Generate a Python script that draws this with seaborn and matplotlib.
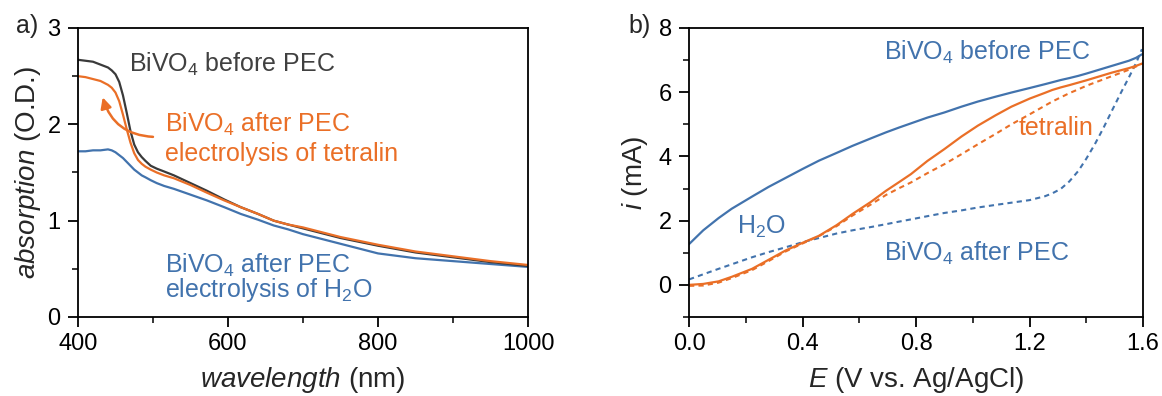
import numpy as np
import pandas as pd
import matplotlib
matplotlib.use("Agg")
import matplotlib.pyplot as plt
import seaborn as sns
from matplotlib.ticker import MultipleLocator, FormatStrFormatter

# ---------------- data: panel a (UV-vis absorption) ----------------
wavelength = [400, 410, 420, 430, 440, 445, 450, 455, 460, 465, 470, 475, 480, 485, 490, 497,
              505, 515, 528, 550, 572, 595, 617, 640, 661, 680, 700, 725, 750, 775, 800, 850,
              900, 950, 1000]
abs_before = [2.67, 2.66, 2.65, 2.62, 2.59, 2.56, 2.52, 2.44, 2.30, 2.12, 1.93, 1.79, 1.71, 1.66,
              1.62, 1.57, 1.54, 1.51, 1.47, 1.39, 1.31, 1.22, 1.14, 1.07, 1.00, 0.96, 0.92, 0.87,
              0.82, 0.78, 0.74, 0.67, 0.62, 0.57, 0.53]
abs_tetralin = [2.50, 2.49, 2.47, 2.45, 2.41, 2.38, 2.33, 2.24, 2.10, 1.95, 1.81, 1.70, 1.63, 1.59,
                1.56, 1.53, 1.50, 1.47, 1.44, 1.37, 1.29, 1.21, 1.14, 1.07, 1.00, 0.96, 0.93, 0.88,
                0.83, 0.79, 0.75, 0.68, 0.63, 0.58, 0.54]
abs_h2o = [1.72, 1.72, 1.73, 1.73, 1.74, 1.73, 1.71, 1.68, 1.65, 1.61, 1.57, 1.53, 1.50, 1.47,
           1.45, 1.42, 1.39, 1.36, 1.33, 1.27, 1.21, 1.14, 1.07, 1.01, 0.95, 0.91, 0.86, 0.81,
           0.76, 0.71, 0.66, 0.61, 0.58, 0.55, 0.52]

# ---------------- data: panel b (current vs potential) ----------------
potential = [0.0, 0.05, 0.104, 0.15, 0.222, 0.28, 0.34, 0.40, 0.458, 0.52, 0.576, 0.64, 0.694,
             0.74, 0.782, 0.84, 0.90, 0.96, 1.018, 1.08, 1.136, 1.20, 1.254, 1.28, 1.31, 1.34,
             1.372, 1.40, 1.43, 1.46, 1.49, 1.52, 1.55, 1.575, 1.596]
i_before = [1.27, 1.70, 2.08, 2.37, 2.75, 3.05, 3.33, 3.61, 3.87, 4.11, 4.33, 4.56, 4.75,
            4.90, 5.03, 5.21, 5.37, 5.55, 5.71, 5.86, 5.99, 6.13, 6.25, 6.31, 6.38, 6.44,
            6.51, 6.58, 6.66, 6.74, 6.82, 6.90, 6.98, 7.07, 7.18]
i_tetralin_before = [0.0, 0.03, 0.11, 0.25, 0.50, 0.78, 1.07, 1.31, 1.53, 1.86, 2.21, 2.58, 2.93,
                     3.20, 3.45, 3.86, 4.23, 4.62, 4.96, 5.28, 5.55, 5.80, 5.98, 6.07, 6.15, 6.22,
                     6.30, 6.37, 6.45, 6.53, 6.61, 6.68, 6.75, 6.82, 6.89]
i_tetralin_after = [-0.03, -0.02, 0.07, 0.21, 0.46, 0.74, 1.04, 1.29, 1.52, 1.83, 2.16, 2.50, 2.80,
                    3.01, 3.19, 3.48, 3.76, 4.07, 4.38, 4.70, 5.00, 5.31, 5.58, 5.71, 5.84, 5.97,
                    6.09, 6.20, 6.30, 6.40, 6.50, 6.60, 6.70, 6.80, 6.89]
i_h2o_after = [0.17, 0.33, 0.50, 0.64, 0.86, 1.02, 1.17, 1.33, 1.46, 1.60, 1.70, 1.80, 1.89,
               1.97, 2.04, 2.14, 2.24, 2.32, 2.41, 2.49, 2.56, 2.64, 2.76, 2.85, 2.99, 3.22,
               3.55, 3.93, 4.38, 4.88, 5.42, 5.95, 6.46, 6.90, 7.34]

# ---------------- style ----------------
sns.set_theme(style="ticks")
plt.rcParams["font.family"] = ["Liberation Sans", "DejaVu Sans"]
plt.rcParams["mathtext.fontset"] = "custom"
plt.rcParams["mathtext.rm"] = "Liberation Sans"
plt.rcParams["mathtext.it"] = "Liberation Sans:italic"
plt.rcParams["mathtext.bf"] = "Liberation Sans:bold"

BLUE = "#4273ad"
ORANGE = "#ea6f27"
DARK = "#3a3a3a"
TEXTDARK = "#404040"
TICK_FS = 17
LAB_FS = 20
ANN_FS = 18

fig = plt.figure(figsize=(11.62, 3.96), dpi=100)
axa = fig.add_axes([0.0671, 0.1995, 0.3873, 0.7298])
axb = fig.add_axes([0.593, 0.1995, 0.3907, 0.7298])

dfa = pd.DataFrame({"wl": wavelength, "before": abs_before,
                    "tetralin": abs_tetralin, "h2o": abs_h2o})
sns.lineplot(data=dfa, x="wl", y="h2o", ax=axa, color=BLUE, lw=1.6, sort=False)
sns.lineplot(data=dfa, x="wl", y="before", ax=axa, color=DARK, lw=1.6, sort=False)
sns.lineplot(data=dfa, x="wl", y="tetralin", ax=axa, color=ORANGE, lw=1.6, sort=False)

dfb = pd.DataFrame({"E": potential, "before": i_before, "tb": i_tetralin_before,
                    "ta": i_tetralin_after, "ha": i_h2o_after})
sns.lineplot(data=dfb, x="E", y="before", ax=axb, color=BLUE, lw=1.6, sort=False)
sns.lineplot(data=dfb, x="E", y="ha", ax=axb, color=BLUE, lw=1.5, sort=False,
             linestyle=(0, (2.5, 2.0)))
sns.lineplot(data=dfb, x="E", y="ta", ax=axb, color=ORANGE, lw=1.5, sort=False,
             linestyle=(0, (2.5, 2.0)))
sns.lineplot(data=dfb, x="E", y="tb", ax=axb, color=ORANGE, lw=1.6, sort=False)

# ---------------- axes formatting ----------------
for ax in (axa, axb):
    for sp in ax.spines.values():
        sp.set_visible(True)
        sp.set_color("black")
        sp.set_linewidth(1.3)
    ax.tick_params(which="major", direction="out", length=7.5, width=1.3,
                   labelsize=TICK_FS, colors="black", top=False, right=False)
    ax.tick_params(axis="x", which="major", pad=4)
    ax.tick_params(axis="y", which="major", pad=5)
    ax.tick_params(which="minor", direction="out", length=4, width=1.3,
                   top=False, right=False)

axa.set_xlim(400, 1000)
axa.set_ylim(0, 3)
axa.xaxis.set_major_locator(MultipleLocator(200))
axa.xaxis.set_minor_locator(MultipleLocator(100))
axa.yaxis.set_major_locator(MultipleLocator(1))
axa.yaxis.set_minor_locator(MultipleLocator(0.5))
axa.set_xlabel(r"$\it{wavelength}$ (nm)", fontsize=LAB_FS, labelpad=7)
axa.set_ylabel(r"$\it{absorption}$ (O.D.)", fontsize=LAB_FS, labelpad=3)

axb.set_xlim(0, 1.6)
axb.set_ylim(-1, 8)
axb.xaxis.set_major_locator(MultipleLocator(0.4))
axb.xaxis.set_minor_locator(MultipleLocator(0.2))
axb.yaxis.set_major_locator(MultipleLocator(2))
axb.yaxis.set_minor_locator(MultipleLocator(1))
axb.xaxis.set_major_formatter(FormatStrFormatter("%.1f"))
axb.set_xlabel(r"$\it{E}$ (V vs. Ag/AgCl)", fontsize=LAB_FS, labelpad=7)
axb.set_ylabel(r"$\it{i}$ (mA)", fontsize=LAB_FS, labelpad=6)

# ---------------- annotations ----------------
axa.text(468, 2.62, r"BiVO$_4$ before PEC", color=TEXTDARK, fontsize=ANN_FS, va="center")
axa.text(516, 2.00, r"BiVO$_4$ after PEC", color=ORANGE, fontsize=ANN_FS, va="center")
axa.text(516, 1.69, "electrolysis of tetralin", color=ORANGE, fontsize=ANN_FS, va="center")
axa.text(516, 0.54, r"BiVO$_4$ after PEC", color=BLUE, fontsize=ANN_FS, va="center")
axa.text(516, 0.28, r"electrolysis of H$_2$O", color=BLUE, fontsize=ANN_FS, va="center")
axa.annotate("", xy=(433, 2.28), xytext=(500, 1.87),
             arrowprops=dict(arrowstyle="-|>", color=ORANGE, lw=1.8,
                             connectionstyle="arc3,rad=-0.35",
                             mutation_scale=16, shrinkA=0, shrinkB=0))

axb.text(0.687, 7.25, r"BiVO$_4$ before PEC", color=BLUE, fontsize=ANN_FS, va="center")
axb.text(1.16, 4.9, "tetralin", color=ORANGE, fontsize=ANN_FS, va="center")
axb.text(0.17, 1.8, r"H$_2$O", color=BLUE, fontsize=ANN_FS, va="center")
axb.text(0.687, 0.97, r"BiVO$_4$ after PEC", color=BLUE, fontsize=ANN_FS, va="center")

fig.text(16 / 1162, 1 - 26 / 396, "a)", fontsize=18, va="center", ha="left")
fig.text(628 / 1162, 1 - 26 / 396, "b)", fontsize=18, va="center", ha="left")

fig.savefig("out.png", dpi=100)
